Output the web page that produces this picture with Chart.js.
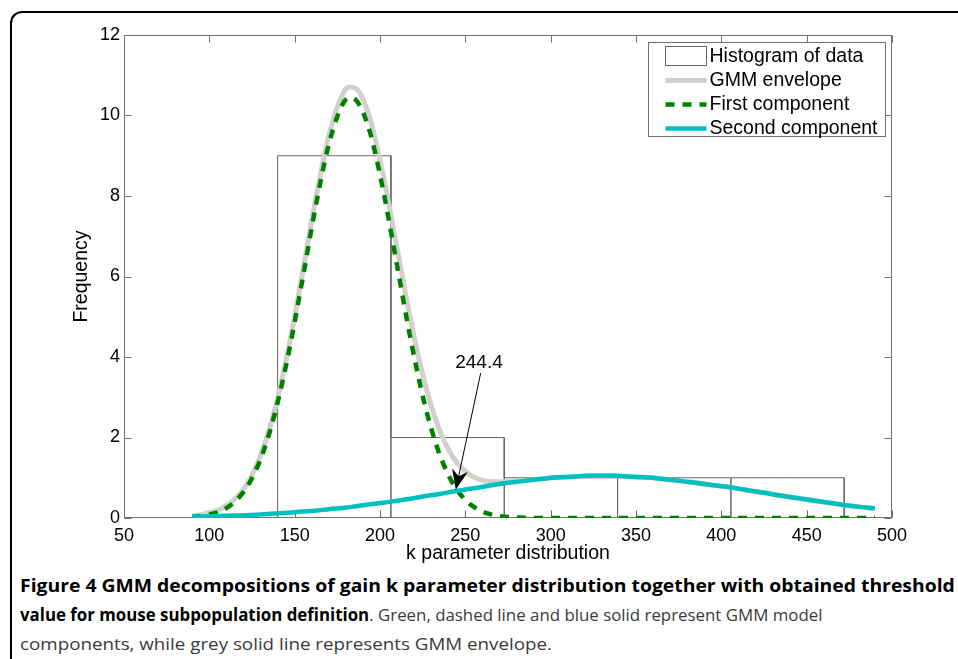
<!DOCTYPE html>
<html>
<head>
<meta charset="utf-8">
<script src="https://cdn.jsdelivr.net/npm/chart.js@4.4.1/dist/chart.umd.min.js"></script>
<style>
  html, body { margin: 0; padding: 0; background: #fff; }
  body { width: 958px; height: 659px; position: relative; overflow: hidden; }
  #frame { position: absolute; left: 10px; top: 11px; width: 1000px; height: 700px;
           border-left: 2px solid #000; border-top: 2px solid #000; border-top-left-radius: 12px; }
  #chart { position: absolute; left: 0; top: 0; }
  #caption { position: absolute; left: 20px; top: 571px; font-family: "Open Sans", sans-serif;
             font-size: 17px; line-height: 29px; color: #3a3a3a; }
  #caption div { white-space: nowrap; width: max-content; transform-origin: 0 50%; }
  #caption b { color: #000; }
</style>
</head>
<body>
<div id="frame"></div>
<canvas id="chart" width="958" height="570"></canvas>
<div id="caption">
  <div data-w="935"><b>Figure 4 GMM decompositions of gain k parameter distribution together with obtained threshold</b></div>
  <div data-w="802"><b>value for mouse subpopulation definition</b>. Green, dashed line and blue solid represent GMM model</div>
  <div data-w="532">components, while grey solid line represents GMM envelope.</div>
</div>
<script>
// k values where the fitted curves were sampled
const kValues = [90, 98, 106, 114, 122, 130, 138, 146, 154, 162, 170, 178, 182, 186, 194, 202,
  210, 218, 226, 234, 242, 250, 258, 266, 274, 282, 290, 298, 306, 314, 322, 330, 338, 346,
  354, 362, 370, 378, 386, 394, 402, 410, 418, 426, 434, 442, 450, 458, 466, 474, 482, 490];

const firstComponent = [0.02, 0.07, 0.16, 0.37, 0.77, 1.46, 2.53, 4.00, 5.79, 7.67, 9.28, 10.27,
  10.44, 10.38, 9.60, 8.11, 6.27, 4.43, 2.86, 1.69, 0.91, 0.45, 0.20, 0.08, 0.03, 0.01,
  0, 0, 0, 0, 0, 0, 0, 0, 0, 0, 0, 0, 0, 0, 0, 0, 0, 0, 0, 0, 0, 0, 0, 0, 0, 0];

const secondComponent = [0.03, 0.04, 0.05, 0.06, 0.07, 0.09, 0.11, 0.13, 0.16, 0.18, 0.22, 0.25,
  0.27, 0.29, 0.34, 0.38, 0.43, 0.48, 0.54, 0.59, 0.65, 0.71, 0.76, 0.82, 0.87, 0.91, 0.95,
  0.99, 1.01, 1.03, 1.05, 1.05, 1.05, 1.03, 1.01, 0.99, 0.95, 0.91, 0.87, 0.82, 0.78, 0.73,
  0.67, 0.62, 0.56, 0.51, 0.46, 0.41, 0.36, 0.31, 0.27, 0.24];

const envelope = [0.05, 0.11, 0.21, 0.43, 0.84, 1.55, 2.64, 4.13, 5.95, 7.85, 9.50, 10.52,
  10.71, 10.67, 9.94, 8.49, 6.70, 4.91, 3.40, 2.28, 1.56, 1.16, 0.96, 0.90, 0.90, 0.92, 0.95,
  0.99, 1.01, 1.03, 1.05, 1.05, 1.05, 1.03, 1.01, 0.99, 0.95, 0.91, 0.87, 0.82, 0.78, 0.73,
  0.67, 0.62, 0.56, 0.51, 0.46, 0.41, 0.36, 0.31, 0.27, 0.24];

// histogram
const binEdges = [140, 206.4, 272.8, 339.2, 405.6, 472];
const binCounts = [9, 2, 1, 1, 1];

const legendLabels = ['Histogram of data', 'GMM envelope', 'First component', 'Second component'];
const xTitle = 'k parameter distribution';
const yTitle = 'Frequency';

// threshold annotation
const thresholdText = '244.4';
const arrowTip = [244.4, 0.70];
const arrowTail = [259, 3.6];
const labelAt = [258, 3.85];

const FONT = '"Liberation Sans", Arial, sans-serif';
const axisColor = '#6e6e6e';
const histColor = '#666666';
const greyColor = '#d2d0ca';
const greenColor = '#008000';
const cyanColor = '#00bfbf';

function pts(ys) {
  return kValues.map((k, i) => ({ x: k, y: ys[i] }));
}

function histOutline() {
  const out = [];
  binCounts.forEach((c, i) => {
    out.push({ x: binEdges[i], y: 0 }, { x: binEdges[i], y: c },
             { x: binEdges[i + 1], y: c }, { x: binEdges[i + 1], y: 0 });
  });
  return out;
}

// axes box with inward ticks on all four sides
const boxPlugin = {
  id: 'box',
  beforeDatasetsDraw(chart) {
    const { ctx, chartArea: a, scales: { x, y } } = chart;
    const L = Math.round(a.left) + 0.5, R = Math.round(a.right) - 0.5;
    const T = Math.round(a.top) + 0.5, B = Math.round(a.bottom) - 0.5;
    ctx.save();
    ctx.strokeStyle = axisColor;
    ctx.lineWidth = 1;
    ctx.strokeRect(L, T, R - L, B - T);
    ctx.beginPath();
    x.ticks.forEach(t => {
      const px = Math.round(x.getPixelForValue(t.value)) + 0.5;
      ctx.moveTo(px, B); ctx.lineTo(px, B - 7);
      ctx.moveTo(px, T); ctx.lineTo(px, T + 7);
    });
    y.ticks.forEach(t => {
      const py = Math.round(y.getPixelForValue(t.value)) + 0.5;
      ctx.moveTo(L, py); ctx.lineTo(L + 7, py);
      ctx.moveTo(R, py); ctx.lineTo(R - 7, py);
    });
    ctx.stroke();
    ctx.restore();
  }
};

// legend box in the top right corner of the axes
const legendPlugin = {
  id: 'boxLegend',
  afterDraw(chart) {
    const { ctx, chartArea: a } = chart;
    const w = 237, h = 94;
    const left = Math.round(a.right) - 7 - w + 0.5, top = Math.round(a.top) + 7 + 0.5;
    ctx.save();
    ctx.fillStyle = '#fff';
    ctx.fillRect(left, top, w, h);
    ctx.strokeStyle = axisColor;
    ctx.lineWidth = 1;
    ctx.strokeRect(left, top, w, h);
    const ds = chart.data.datasets;
    ctx.font = '19.5px ' + FONT;
    ctx.textBaseline = 'middle';
    ctx.textAlign = 'left';
    legendLabels.forEach((lab, i) => {
      const cy = top + 13 + i * 24;
      const x0 = left + 17, x1 = left + 58;
      if (i === 0) {
        ctx.strokeStyle = histColor;
        ctx.lineWidth = 1;
        ctx.strokeRect(x0, cy - 9, x1 - x0, 19);
      } else {
        const d = ds[i];
        ctx.strokeStyle = d.borderColor;
        ctx.lineWidth = d.borderWidth;
        ctx.setLineDash(d.borderDash || []);
        ctx.beginPath();
        ctx.moveTo(x0, cy + 1);
        ctx.lineTo(x1, cy + 1);
        ctx.stroke();
        ctx.setLineDash([]);
      }
      ctx.fillStyle = '#000';
      ctx.fillText(lab, left + 61, cy + 1);
    });
    ctx.restore();
  }
};

// arrow pointing at the threshold
const arrowPlugin = {
  id: 'threshold',
  afterDraw(chart) {
    const { ctx, scales: { x, y } } = chart;
    const tx = x.getPixelForValue(arrowTip[0]), ty = y.getPixelForValue(arrowTip[1]);
    const sx = x.getPixelForValue(arrowTail[0]), sy = y.getPixelForValue(arrowTail[1]);
    const ang = Math.atan2(ty - sy, tx - sx);
    const len = 20, half = 8, notch = 6;
    const ux = Math.cos(ang), uy = Math.sin(ang);
    const bx = tx - ux * len, by = ty - uy * len;
    ctx.save();
    ctx.strokeStyle = '#000';
    ctx.lineWidth = 1;
    ctx.beginPath();
    ctx.moveTo(sx, sy);
    ctx.lineTo(bx + ux * notch, by + uy * notch);
    ctx.stroke();
    ctx.fillStyle = '#000';
    ctx.beginPath();
    ctx.moveTo(tx, ty);
    ctx.lineTo(bx - uy * half, by + ux * half);
    ctx.lineTo(bx + ux * notch, by + uy * notch);
    ctx.lineTo(bx + uy * half, by - ux * half);
    ctx.closePath();
    ctx.fill();
    ctx.font = '19px ' + FONT;
    ctx.textAlign = 'center';
    ctx.textBaseline = 'middle';
    ctx.fillText(thresholdText, x.getPixelForValue(labelAt[0]), y.getPixelForValue(labelAt[1]));
    ctx.restore();
  }
};

const tickFont = { family: FONT, size: 18 };
const titleFont = { family: FONT, size: 19.5 };

new Chart(document.getElementById('chart').getContext('2d'), {
  type: 'scatter',
  data: {
    datasets: [{
      label: legendLabels[0],
      data: histOutline(),
      showLine: true,
      borderColor: histColor,
      borderWidth: 1,
      pointRadius: 0,
      tension: 0,
      order: 4
    }, {
      label: legendLabels[1],
      data: pts(envelope),
      showLine: true,
      borderColor: greyColor,
      borderWidth: 5,
      pointRadius: 0,
      cubicInterpolationMode: 'monotone',
      order: 3
    }, {
      label: legendLabels[2],
      data: pts(firstComponent),
      showLine: true,
      borderColor: greenColor,
      borderWidth: 4.5,
      borderDash: [9, 8],
      pointRadius: 0,
      cubicInterpolationMode: 'monotone',
      order: 2
    }, {
      label: legendLabels[3],
      data: pts(secondComponent),
      showLine: true,
      borderColor: cyanColor,
      borderWidth: 4.5,
      pointRadius: 0,
      cubicInterpolationMode: 'monotone',
      order: 1
    }]
  },
  options: {
    responsive: false,
    animation: false,
    devicePixelRatio: 1,
    layout: { padding: { top: 35, right: 66, left: 0, bottom: 0 } },
    plugins: { legend: { display: false }, tooltip: { enabled: false } },
    scales: {
      x: {
        type: 'linear', min: 50, max: 500,
        ticks: { stepSize: 50, autoSkip: false, maxRotation: 0, padding: 7, color: '#000', font: tickFont },
        grid: { display: false, drawTicks: false },
        border: { display: false },
        title: { display: true, text: xTitle, color: '#000', font: titleFont, padding: { top: 0, bottom: 5 } },
        afterFit(s) { s.height = 52; }
      },
      y: {
        type: 'linear', min: 0, max: 12,
        ticks: { stepSize: 2, padding: 4, color: '#000', font: tickFont },
        grid: { display: false, drawTicks: false },
        border: { display: false },
        title: { display: true, text: yTitle, color: '#000', font: titleFont, padding: { top: 70, bottom: 0 } },
        afterFit(s) { s.width = 124; }
      }
    }
  },
  plugins: [boxPlugin, legendPlugin, arrowPlugin]
});

// squeeze caption lines to the widths of the printed figure
document.querySelectorAll('#caption div').forEach(el => {
  const target = +el.dataset.w;
  el.style.transform = 'scaleX(' + (target / el.offsetWidth) + ')';
});
</script>
</body>
</html>
